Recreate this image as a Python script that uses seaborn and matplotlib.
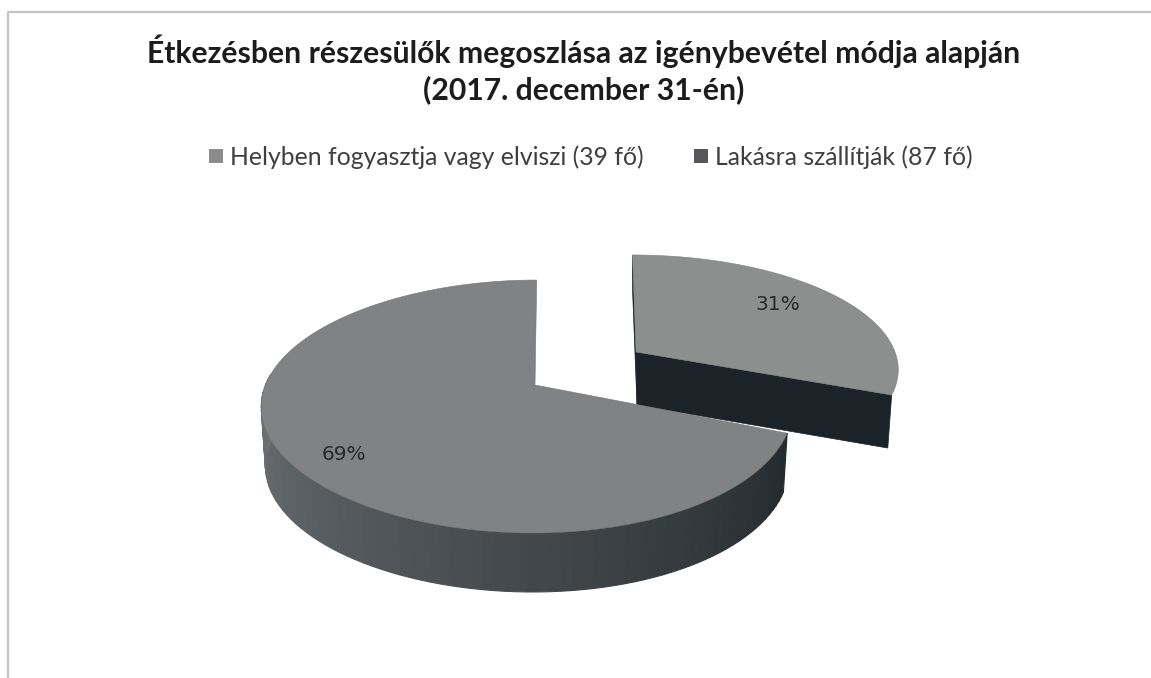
import numpy as np
import matplotlib.pyplot as plt
from matplotlib.patches import Patch, Polygon
import seaborn as sns

title = "Étkezésben részesülők megoszlása az igénybevétel módja alapján\n(2017. december 31-én)"
categories = ["Helyben fogyasztja vagy elviszi (39 fő)", "Lakásra szállítják (87 fő)"]
shares = [31, 69]
share_labels = ["31%", "69%"]

sns.set_theme(style="white")
plt.rcParams['font.family'] = ['Lato', 'DejaVu Sans']

top_small = "#8d8e8e"
top_big = "#808283"
side_small = "#1b2328"
side_big = sns.blend_palette(["#242b2f", "#3b4145", "#565b5f", "#6f7376"], 80)
legend_colors = ["#8c8c8c", "#555759"]

cut = 360 * shares[0] / sum(shares)


# tilted disc: angle runs clockwise from 12 o'clock, k is the perspective
def rim(theta, disc, drop=0.0, shrink=1.0):
    t = np.radians(theta)
    s, c = np.sin(t), np.cos(t)
    d = 1 + disc["k"] * c
    x = disc["x"] + shrink * (disc["b"] * s - disc["skew"] * s * s + disc["lean"] * c) / d
    y = disc["y"] + drop - disc["a"] * c / d
    return np.column_stack([x, y])


big = dict(x=535, y=385, a=122.8, b=262, k=0.17, skew=7.5, lean=2, depth=59)
small = dict(x=636, y=352, a=110.8, b=259, k=0.142, skew=0, lean=-4, depth=53)

fig, ax = plt.subplots(figsize=(11.51, 6.78), dpi=100)
fig.subplots_adjust(0, 0, 1, 1)
ax.set_xlim(0, 1151)
ax.set_ylim(678, 0)
ax.axis("off")

# scanned page edge
ax.plot([8, 8, 1151], [678, 12, 12], color="#c4c4c4", lw=1.6)

# pulled out slice (31%), goes behind the big one
angles = np.linspace(0, cut, 120)
top_edge = rim(angles, small)
apex = np.array([small["x"], small["y"]])
apex_low = apex + [1, small["depth"]]
cut_low = rim(cut, small, small["depth"], 0.985)[0]
ax.add_patch(Polygon([apex, top_edge[-1], cut_low, apex_low], fc=side_small, ec=side_small, lw=0.5, zorder=2))
ax.add_patch(Polygon([top_edge[0], apex, apex_low, rim(0, small, 36, 0.975)[0]], fc=side_small, ec=side_small, lw=0.5, zorder=2))
ax.add_patch(Polygon(np.vstack([apex, top_edge]), fc=top_small, ec="#7f8080", lw=0.4, zorder=3))

# big slice (69%), side wall in strips so it darkens to the right
wall = np.linspace(cut, 275, len(side_big) + 1)
for i, col in enumerate(side_big):
    a = np.linspace(wall[i], wall[i + 1], 4)
    pts = np.vstack([rim(a, big), rim(a, big, big["depth"], 0.985)[::-1]])
    ax.add_patch(Polygon(pts, fc=col, ec=col, lw=0.8, zorder=4))

angles = np.linspace(cut, 360, 300)
top_edge = rim(angles, big)
ax.add_patch(Polygon(np.vstack([[big["x"], big["y"]], top_edge]), fc=top_big, ec="#737576", lw=0.4, zorder=5))

ax.text(778, 304, share_labels[0], ha="center", va="center", fontsize=14.5, color="#26292b",
        family=["DejaVu Sans"], zorder=6)
ax.text(344, 455, share_labels[1], ha="center", va="center", fontsize=14.5, color="#26292b",
        family=["DejaVu Sans"], zorder=6)

ax.text(584, 69, title, ha="center", va="center", fontsize=21.7, fontweight="bold", color="#1c1c1c",
        linespacing=1.3)

handles = [Patch(fc=c, ec="none") for c in legend_colors]
ax.legend(handles, categories, loc="center", bbox_to_anchor=(591, 157), bbox_transform=ax.transData,
          ncol=2, frameon=False, fontsize=17.8, labelcolor="#3f3f3f", handlelength=0.55, handleheight=0.55,
          handletextpad=0.3, columnspacing=2.05, borderpad=0)

plt.savefig("out.png", dpi=100)
